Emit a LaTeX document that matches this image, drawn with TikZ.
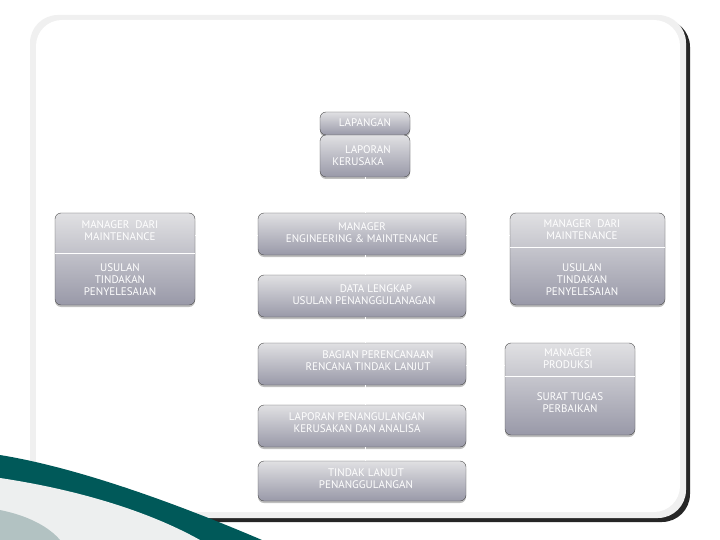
\documentclass[tikz,border=0pt]{standalone}
\usepackage{fontspec}
\setmainfont{PT Sans}
\usetikzlibrary{shadows}
\tikzset{
  box/.style={draw=black!70, rounded corners=6pt, top color=blue!8!black!12, bottom color=blue!15!black!40,
    drop shadow={shadow xshift=0pt, shadow yshift=-2pt, opacity=0.5}, inner sep=0pt},
  boxtext/.style={text=white, font=\fontsize{11}{12}\selectfont, align=center, inner sep=0pt},
  link/.style={white, line width=0.8pt}
}
\begin{document}
\begin{tikzpicture}[x=1pt,y=-1pt]
\useasboundingbox (0,0) rectangle (720,540);
\fill[white] (0,0) rectangle (720,540);
% outer panel
\fill[black!85] (36,19) [rounded corners=28pt] rectangle (690,522);
\fill[black!6,rounded corners=28pt] (30,15) rectangle (686,518);
\fill[white,rounded corners=26pt] (36,20) rectangle (680,512);
% swoosh
\fill[teal!70!black] (0,455) .. controls (80,468) and (180,505) .. (262,540) -- (0,540) -- cycle;
\fill[cyan!12!black!8] (0,478) .. controls (80,490) and (150,512) .. (200,540) -- (0,540) -- cycle;
\fill[teal!40!black!30] (0,510) .. controls (30,516) and (50,528) .. (60,540) -- (0,540) -- cycle;
% boxes
\draw[box] (320,112) rectangle (410,135);
\node[boxtext] (lap) at (365,123) {LAPANGAN};
\draw[box] (320,135) rectangle (410,177);
\node[boxtext] (lapor) at (365,156) {\ \ LAPORAN\\KERUSAKA\hspace*{14pt}};
\draw[box] (55,213) rectangle (195,305);
\draw[white] (55,253) -- (195,253);
\node[boxtext] (mL) at (120,231) {MANAGER\ \ DARI\\MAINTENANCE};
\node[boxtext] (uL) at (120,280) {USULAN\\TINDAKAN\\PENYELESAIAN};
\draw[box] (258,213) rectangle (466,255);
\node[boxtext] (c1) at (362,233) {MANAGER\\ENGINEERING \& MAINTENANCE};
\draw[box] (258,275) rectangle (466,317);
\node[boxtext] (c2) at (364,295) {\hspace*{24pt}DATA LENGKAP\\USULAN PENANGGULANAGAN};
\draw[box] (258,343) rectangle (466,385);
\node[boxtext] (c3) at (368,361) {\hspace*{20pt}BAGIAN PERENCANAAN\\RENCANA TINDAK LANJUT};
\draw[box] (258,405) rectangle (466,447);
\node[boxtext] (c4) at (357,423) {LAPORAN PENANGULANGAN\\KERUSAKAN DAN ANALISA};
\draw[box] (258,461) rectangle (466,501);
\node[boxtext] (c5) at (366,479) {TINDAK LANJUT\\PENANGGULANGAN};
\draw[box] (510,213) rectangle (665,305);
\draw[white] (510,247) -- (665,247);
\node[boxtext] (mR) at (582,230) {MANAGER\ \ DARI\\MAINTENANCE};
\node[boxtext] (uR) at (582,280) {USULAN\\TINDAKAN\\PENYELESAIAN};
\draw[box] (505,343) rectangle (635,435);
\draw[white] (505,376) -- (635,376);
\node[boxtext] (mP) at (568,359) {MANAGER\\PRODUKSI};
\node[boxtext] (sP) at (570,403) {SURAT TUGAS\\PERBAIKAN};
% connectors
\draw[link] (365,177) -- (365,213);
\draw[link] (365,255) -- (365,275);
\draw[link] (365,317) -- (365,343);
\draw[link] (365,385) -- (365,405);
\draw[link] (365,447) -- (365,461);
\draw[link] (195,235) -- (258,235);
\draw[link] (466,235) -- (510,235);
\draw[link] (466,365) -- (505,365);
\end{tikzpicture}
\end{document}
